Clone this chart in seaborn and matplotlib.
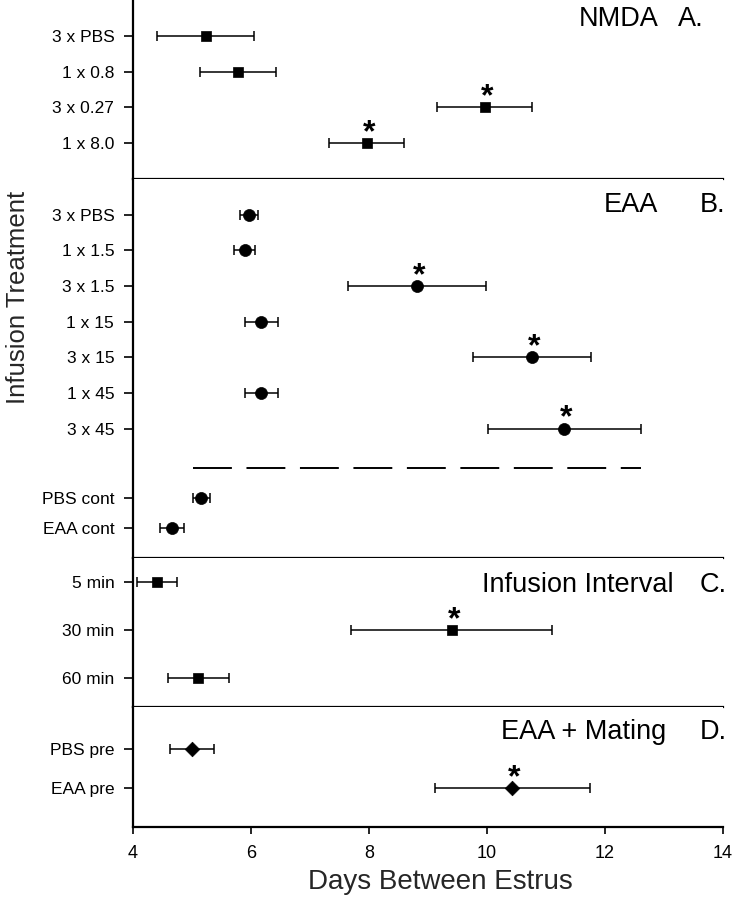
import numpy as np
import pandas as pd
import matplotlib
matplotlib.use("Agg")
import matplotlib.pyplot as plt
import seaborn as sns

# ---------------- data ----------------
nmda_labels = ["3 x PBS", "1 x 0.8", "3 x 0.27", "1 x 8.0"]
nmda_mean = [5.23, 5.78, 9.96, 7.96]
nmda_sem = [0.82, 0.64, 0.81, 0.63]
nmda_sig = [False, False, True, True]

eaa_labels = ["3 x PBS", "1 x 1.5", "3 x 1.5", "1 x 15", "3 x 15", "1 x 45", "3 x 45"]
eaa_mean = [5.97, 5.89, 8.82, 6.17, 10.76, 6.17, 11.31]
eaa_sem = [0.15, 0.17, 1.17, 0.28, 1.00, 0.28, 1.30]
eaa_sig = [False, False, True, False, True, False, True]

cont_labels = ["PBS cont", "EAA cont"]
cont_mean = [5.16, 4.66]
cont_sem = [0.15, 0.20]
cont_sig = [False, False]

interval_labels = ["5 min", "30 min", "60 min"]
interval_mean = [4.40, 9.40, 5.11]
interval_sem = [0.34, 1.70, 0.52]
interval_sig = [False, True, False]

mating_labels = ["PBS pre", "EAA pre"]
mating_mean = [5.00, 10.43]
mating_sem = [0.37, 1.31]
mating_sig = [False, True]

x_ticks = [4, 6, 8, 10, 12, 14]

# ---------------- style ----------------
sns.set_theme(style="ticks")
plt.rcParams["font.family"] = ["Liberation Sans", "DejaVu Sans"]

W, H = 738, 900
fig = plt.figure(figsize=(W / 100, H / 100), dpi=100)
fig.patch.set_facecolor("white")

AX_L, AX_R = 133, 723


def rect(top, bottom):
    return [AX_L / W, 1 - bottom / H, (AX_R - AX_L) / W, (bottom - top) / H]


def ftext(x, y, s, **kw):
    fig.text(x / W, 1 - y / H, s, **kw)


def panel(top, bottom, ylim, labels, positions, means, sems, sig, marker, msize, last=False):
    ax = fig.add_axes(rect(top, bottom))
    ax.set_facecolor("white")
    df = pd.DataFrame({"pos": positions, "mean": means, "sem": sems})
    ax.errorbar(df["mean"], df["pos"], xerr=df["sem"], fmt="none", ecolor="black",
                elinewidth=1.1, capsize=3.8, capthick=1.1, zorder=2)
    sns.scatterplot(data=df, x="mean", y="pos", marker=marker, s=msize, color="black",
                    edgecolor="black", linewidth=0.5, ax=ax, legend=False, zorder=3)
    for m, p, s in zip(means, positions, sig):
        if s:
            ax.annotate("*", xy=(m, p), xytext=(1.5, 1.5), textcoords="offset points",
                        ha="center", va="baseline", fontsize=23, fontweight="bold",
                        color="black")
    ax.set_xlim(4, 14)
    ax.set_ylim(*ylim)
    ax.set_yticks(positions)
    ax.set_yticklabels(labels)
    ax.set_xlabel("")
    ax.set_ylabel("")
    for sp in ["top", "right"]:
        ax.spines[sp].set_visible(False)
    for sp in ["left", "bottom"]:
        ax.spines[sp].set_linewidth(1.6)
        ax.spines[sp].set_color("black")
    ax.tick_params(axis="y", length=6.5, width=1.2, pad=7, labelsize=12.5,
                   direction="out", colors="black")
    if last:
        ax.set_xticks(x_ticks)
        ax.set_xticklabels([str(t) for t in x_ticks])
        ax.tick_params(axis="x", length=5, width=1.2, pad=8, labelsize=13,
                       direction="out", colors="black")
    else:
        ax.tick_params(axis="x", bottom=False, labelbottom=False)
    ax.grid(False)
    return ax


# Panel A
axA = panel(0, 179, (4.0, -1.0), nmda_labels, np.arange(len(nmda_labels)),
            nmda_mean, nmda_sem, nmda_sig, "s", 60)

# Panel B (main treatments + controls below a dashed separator)
main_pos = np.arange(len(eaa_labels))
sep_pos = main_pos[-1] + 1.09
cont_pos = main_pos[-1] + np.array([1.93, 2.78])
axB = panel(179, 558, (9.62, -1.0), eaa_labels + cont_labels,
            np.concatenate([main_pos, cont_pos]),
            eaa_mean + cont_mean, eaa_sem + cont_sem, eaa_sig + cont_sig, "o", 75)
sep_xmin = cont_mean[0] - cont_sem[0]
sep_xmax = max(m + s for m, s in zip(eaa_mean, eaa_sem))
axB.hlines(sep_pos, sep_xmin, sep_xmax, colors="black", linewidth=1.4,
           linestyles=(0, (20, 7.5)))

# Panel C
axC = panel(558, 707, (2.6, -0.5), interval_labels, np.arange(len(interval_labels)),
            interval_mean, interval_sem, interval_sig, "s", 60)

# Panel D
axD = panel(707, 827, (2.0, -1.08), mating_labels, np.arange(len(mating_labels)),
            mating_mean, mating_sem, mating_sig, "D", 55, last=True)

# Panel titles
title_kw = dict(fontsize=19.5, color="black", va="center")
ftext(659, 19, "NMDA", ha="right", **title_kw)
ftext(678, 19, "A.", ha="left", **title_kw)
ftext(658, 205, "EAA", ha="right", **title_kw)
ftext(700, 205, "B.", ha="left", **title_kw)
ftext(674, 585, "Infusion Interval", ha="right", **title_kw)
ftext(700, 585, "C.", ha="left", **title_kw)
ftext(666, 732, "EAA + Mating", ha="right", **title_kw)
ftext(700, 732, "D.", ha="left", **title_kw)

# Axis labels
ftext(18, 297, "Infusion Treatment", rotation=90, ha="center", va="center", fontsize=18.5)
ftext(440, 882, "Days Between Estrus", ha="center", va="center", fontsize=20)

fig.savefig("out.png", dpi=100, facecolor="white")
